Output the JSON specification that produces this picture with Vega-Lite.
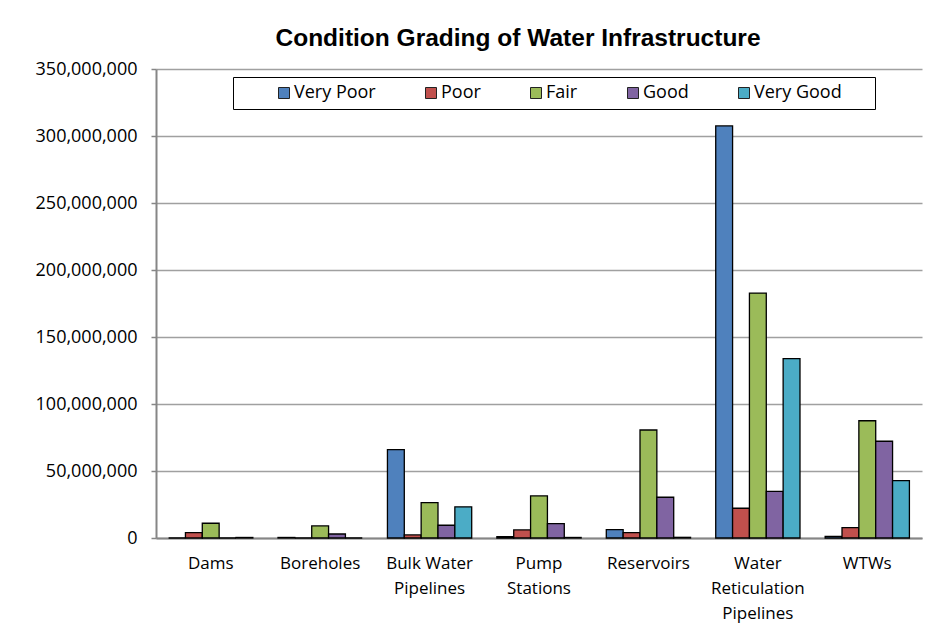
{
  "$schema": "https://vega.github.io/schema/vega-lite/v6.json",
  "width": 766,
  "height": 469,
  "autosize": {"type": "none"},
  "padding": {"left": 156, "top": 69, "right": 19, "bottom": 98},
  "background": "white",
  "title": {
    "text": "Condition Grading of Water Infrastructure",
    "font": "Liberation Sans",
    "fontSize": 24.5,
    "fontWeight": "bold",
    "color": "black",
    "anchor": "middle",
    "dx": -21,
    "offset": 9
  },
  "config": {
    "view": {"stroke": null},
    "font": "Open Sans"
  },
  "data": {
    "values": [
      {"category": "Dams", "grade": "Very Poor", "value": 0},
      {"category": "Dams", "grade": "Poor", "value": 4000000},
      {"category": "Dams", "grade": "Fair", "value": 11000000},
      {"category": "Dams", "grade": "Good", "value": 0},
      {"category": "Dams", "grade": "Very Good", "value": 400000},
      {"category": "Boreholes", "grade": "Very Poor", "value": 400000},
      {"category": "Boreholes", "grade": "Poor", "value": 0},
      {"category": "Boreholes", "grade": "Fair", "value": 9000000},
      {"category": "Boreholes", "grade": "Good", "value": 3000000},
      {"category": "Boreholes", "grade": "Very Good", "value": 0},
      {"category": "Bulk Water Pipelines", "grade": "Very Poor", "value": 66000000},
      {"category": "Bulk Water Pipelines", "grade": "Poor", "value": 2300000},
      {"category": "Bulk Water Pipelines", "grade": "Fair", "value": 26400000},
      {"category": "Bulk Water Pipelines", "grade": "Good", "value": 9500000},
      {"category": "Bulk Water Pipelines", "grade": "Very Good", "value": 23300000},
      {"category": "Pump Stations", "grade": "Very Poor", "value": 1000000},
      {"category": "Pump Stations", "grade": "Poor", "value": 6000000},
      {"category": "Pump Stations", "grade": "Fair", "value": 31400000},
      {"category": "Pump Stations", "grade": "Good", "value": 10800000},
      {"category": "Pump Stations", "grade": "Very Good", "value": 400000},
      {"category": "Reservoirs", "grade": "Very Poor", "value": 6300000},
      {"category": "Reservoirs", "grade": "Poor", "value": 4000000},
      {"category": "Reservoirs", "grade": "Fair", "value": 80600000},
      {"category": "Reservoirs", "grade": "Good", "value": 30400000},
      {"category": "Reservoirs", "grade": "Very Good", "value": 500000},
      {"category": "Water Reticulation Pipelines", "grade": "Very Poor", "value": 307500000},
      {"category": "Water Reticulation Pipelines", "grade": "Poor", "value": 22200000},
      {"category": "Water Reticulation Pipelines", "grade": "Fair", "value": 182800000},
      {"category": "Water Reticulation Pipelines", "grade": "Good", "value": 34800000},
      {"category": "Water Reticulation Pipelines", "grade": "Very Good", "value": 133900000},
      {"category": "WTWs", "grade": "Very Poor", "value": 1200000},
      {"category": "WTWs", "grade": "Poor", "value": 7700000},
      {"category": "WTWs", "grade": "Fair", "value": 87500000},
      {"category": "WTWs", "grade": "Good", "value": 72200000},
      {"category": "WTWs", "grade": "Very Good", "value": 42800000}
    ]
  },
  "mark": {"type": "bar", "stroke": "black", "strokeWidth": 1.3},
  "encoding": {
    "x": {
      "field": "category",
      "type": "nominal",
      "sort": ["Dams", "Boreholes", "Bulk Water Pipelines", "Pump Stations", "Reservoirs", "Water Reticulation Pipelines", "WTWs"],
      "scale": {"paddingInner": 0.23, "paddingOuter": 0.115},
      "axis": {
        "title": null,
        "labelAngle": 0,
        "labelFont": "Open Sans",
        "labelFontSize": 17,
        "labelColor": "black",
        "labelLineHeight": 25,
        "labelPadding": 17,
        "ticks": false,
        "domainColor": "#868686",
        "domainWidth": 2,
        "labelExpr": "datum.value == 'Bulk Water Pipelines' ? ['Bulk Water','Pipelines'] : datum.value == 'Pump Stations' ? ['Pump','Stations'] : datum.value == 'Water Reticulation Pipelines' ? ['Water','Reticulation','Pipelines'] : datum.value"
      }
    },
    "xOffset": {
      "field": "grade",
      "type": "nominal",
      "sort": ["Very Poor", "Poor", "Fair", "Good", "Very Good"],
      "scale": {"paddingInner": 0, "paddingOuter": 0}
    },
    "y": {
      "field": "value",
      "type": "quantitative",
      "scale": {"domain": [0, 350000000], "nice": false},
      "axis": {
        "title": null,
        "values": [0, 50000000, 100000000, 150000000, 200000000, 250000000, 300000000, 350000000],
        "format": ",.0f",
        "labelFont": "Open Sans",
        "labelFontSize": 18,
        "labelColor": "black",
        "labelPadding": 14,
        "tickSize": 5,
        "tickColor": "#868686",
        "tickWidth": 1.5,
        "domainColor": "#868686",
        "domainWidth": 2,
        "gridColor": "#A0A0A0",
        "gridWidth": 1.5
      }
    },
    "color": {
      "field": "grade",
      "type": "nominal",
      "sort": ["Very Poor", "Poor", "Fair", "Good", "Very Good"],
      "scale": {
        "domain": ["Very Poor", "Poor", "Fair", "Good", "Very Good"],
        "range": ["#4F81BD", "#C0504D", "#9BBB59", "#8064A2", "#4BACC6"]
      },
      "legend": {
        "title": " ",
        "titleOrient": "left",
        "titleFontSize": 18,
        "titlePadding": 35,
        "orient": "none",
        "direction": "horizontal",
        "legendX": 77,
        "legendY": 8,
        "padding": 7,
        "strokeColor": "black",
        "fillColor": "white",
        "symbolType": "square",
        "symbolSize": 121,
        "symbolStrokeColor": "#222222",
        "symbolStrokeWidth": 1,
        "symbolOpacity": 1,
        "labelFont": "Open Sans",
        "labelFontSize": 18,
        "labelColor": "black",
        "labelOffset": 1,
        "columnPadding": 46,
        "labelExpr": "datum.label == 'Very Good' ? 'Very Good\u2800\u2800' : datum.label"
      }
    }
  }
}
